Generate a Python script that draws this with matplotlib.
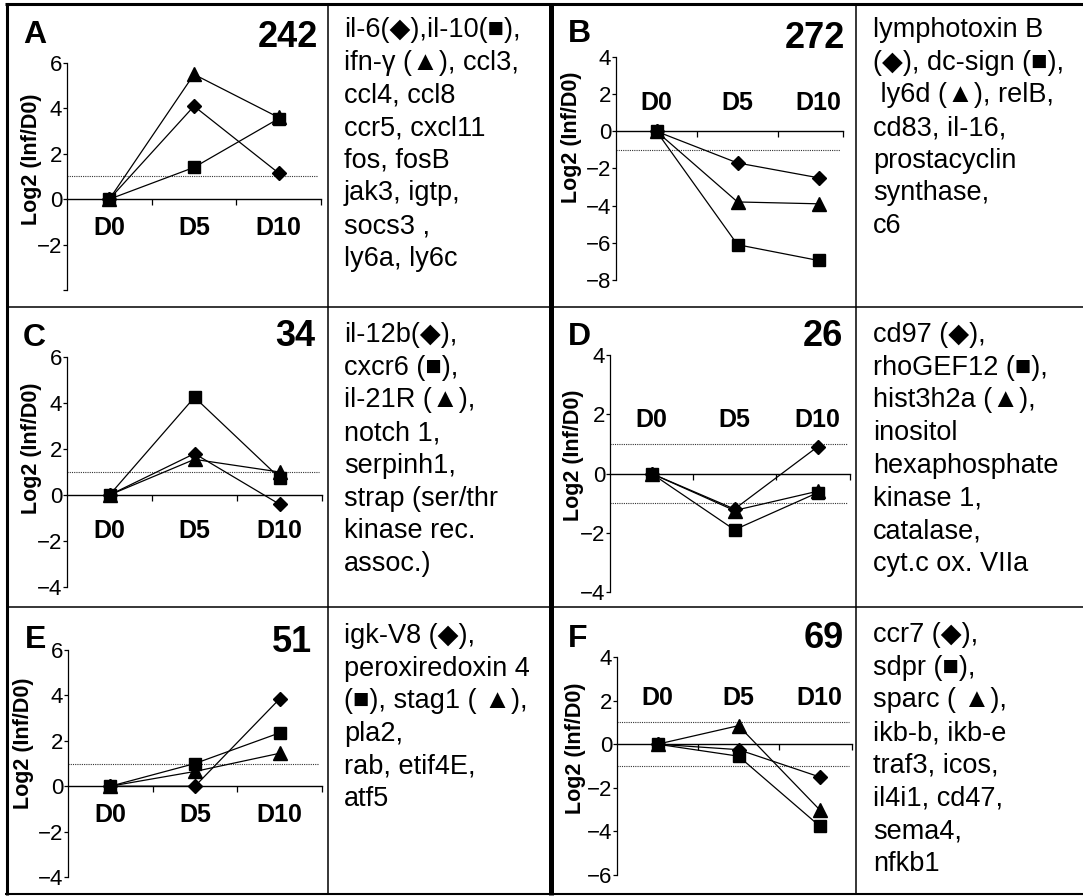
import matplotlib
matplotlib.use("Agg")
import matplotlib.pyplot as plt
from matplotlib.lines import Line2D

plt.rcParams['font.family'] = ['Liberation Sans', 'DejaVu Sans']

W, H = 1083, 896

days = ["D0", "D5", "D10"]

# log2(Inf/D0) per gene: diamond, square, triangle
a_diamond = [0, 4.1, 1.15]
a_square = [0, 1.4, 3.55]
a_triangle = [0, 5.5, 3.6]

b_diamond = [0, -1.7, -2.5]
b_square = [0, -6.1, -6.95]
b_triangle = [0, -3.8, -3.9]

c_diamond = [0, 1.8, -0.4]
c_square = [0, 4.25, 0.75]
c_triangle = [0, 1.55, 1.0]

d_diamond = [0, -1.2, 0.9]
d_square = [0, -1.9, -0.65]
d_triangle = [0, -1.25, -0.6]

e_diamond = [0, 0.0, 3.85]
e_square = [0, 1.0, 2.35]
e_triangle = [0, 0.65, 1.45]

f_diamond = [0, -0.25, -1.5]
f_square = [0, -0.55, -3.75]
f_triangle = [0, 0.85, -3.0]

counts = ["242", "272", "34", "26", "51", "69"]

genes_a = ["il-6(◆),il-10(■),", "ifn-γ (▲), ccl3,", "ccl4, ccl8", "ccr5, cxcl11",
           "fos, fosB", "jak3, igtp,", "socs3 ,", "ly6a, ly6c"]
genes_b = ["lymphotoxin B", "(◆), dc-sign (■),", " ly6d (▲), relB,", "cd83, il-16,",
           "prostacyclin", "synthase,", "c6"]
genes_c = ["il-12b(◆),", "cxcr6 (■),", "il-21R (▲),", "notch 1,", "serpinh1,",
           "strap (ser/thr", "kinase rec.", "assoc.)"]
genes_d = ["cd97 (◆),", "rhoGEF12 (■),", "hist3h2a (▲),", "inositol", "hexaphosphate",
           "kinase 1,", "catalase,", "cyt.c ox. VIIa"]
genes_e = ["igk-V8 (◆),", "peroxiredoxin 4", "(■), stag1 ( ▲),", "pla2,", "rab, etif4E,", "atf5"]
genes_f = ["ccr7 (◆),", "sdpr (■),", "sparc ( ▲),", "ikb-b, ikb-e", "traf3, icos,",
           "il4i1, cd47,", "sema4,", "nfkb1"]


def fx(x):
    return x / W


def fy(y):
    return 1 - y / H


fig = plt.figure(figsize=(W / 100, H / 100), dpi=100)


def hline(y, x0, x1, lw):
    fig.add_artist(Line2D([fx(x0), fx(x1)], [fy(y), fy(y)], color='black', lw=lw,
                          transform=fig.transFigure, solid_capstyle='butt'))


def vline(x, y0, y1, lw):
    fig.add_artist(Line2D([fx(x), fx(x)], [fy(y0), fy(y1)], color='black', lw=lw,
                          transform=fig.transFigure, solid_capstyle='butt'))


# table grid
hline(4, 5, W, 2.2)
hline(894, 5, W, 1.5)
hline(307, 7, W, 1.1)
hline(607, 7, W, 1.1)
vline(7, 3, 895, 2.2)
vline(328, 4, 894, 1.1)
vline(856, 4, 894, 1.1)
vline(550.5, 3, 895, 3.6)


def tick_text(v, hide):
    if v in hide:
        return ''
    return str(v).replace('-', '\u2212')


def panel(box, ylim, hide, series, order, xend, label_y, thresholds,
          letter, letter_pos, count, count_pos, ylab_pos, genes, genes_pos):
    x0, x1, ytop, ybot = box
    ax = fig.add_axes([fx(x0), fy(ybot), (x1 - x0) / W, (ybot - ytop) / H])
    ax.set_xlim(-0.5, 2.5)
    ax.set_ylim(*ylim)
    ax.patch.set_alpha(0)
    for s in ['top', 'right']:
        ax.spines[s].set_visible(False)
    ax.spines['left'].set_linewidth(0.9)
    ax.spines['bottom'].set_position(('data', 0))
    ax.spines['bottom'].set_bounds(-0.5, xend)
    ax.spines['bottom'].set_linewidth(1.0)
    ax.set_xticks([0.5, 1.5, xend])
    ax.tick_params(axis='x', direction='out', length=4, width=0.9, labelbottom=False)
    yticks = list(range(ylim[0], ylim[1] + 1, 2))
    ax.set_yticks(yticks)
    ax.set_yticklabels([tick_text(v, hide) for v in yticks], fontsize=16)
    ax.tick_params(axis='y', direction='out', length=3, width=0.9, pad=0.5)

    for t in thresholds:
        ax.plot([-0.5, xend - 0.03], [t, t], color='#333333', lw=0.8,
                linestyle=(0, (1, 1)), zorder=1)

    styles = {'diamond': ('D', 7.5), 'square': ('s', 8.5), 'triangle': ('^', 10.5)}
    xs = range(len(days))
    for name in order:
        m, ms = styles[name]
        ax.plot(xs, series[name], color='black', lw=0.9, marker=m, markersize=ms,
                markerfacecolor='black', markeredgecolor='black', zorder=3)

    for i, d in enumerate(days):
        ax.text(i, label_y, d, ha='center', va='center', fontsize=18,
                fontweight='bold')

    fig.text(fx(letter_pos[0]), fy(letter_pos[1]), letter, fontsize=23,
             fontweight='bold', ha='left', va='baseline')
    fig.text(fx(count_pos[0]), fy(count_pos[1]), count, fontsize=26,
             fontweight='bold', ha='right', va='baseline')
    fig.text(fx(ylab_pos[0]), fy(ylab_pos[1]), "Log2 (Inf/D0)", fontsize=15.5,
             fontweight='bold', rotation=90, ha='center', va='center')

    gx, gy = genes_pos
    for k, line in enumerate(genes):
        fig.text(fx(gx), fy(gy + k * 32.7), line, fontsize=19.5, ha='left',
                 va='baseline')
    return ax


std = ['diamond', 'square', 'triangle']

panel((67, 321, 63, 290), (-4, 6), [-4],
      {'diamond': a_diamond, 'square': a_square, 'triangle': a_triangle}, std,
      2.5, -1.25, [1], "A", (23, 43), counts[0], (318, 47), (32, 159),
      genes_a, (344, 37))

panel((616, 859, 57, 280), (-8, 4), [],
      {'diamond': b_diamond, 'square': b_square, 'triangle': b_triangle}, std,
      2.3, 1.5, [-1], "B", (568, 42), counts[1], (845, 48), (572, 137),
      genes_b, (873, 37))

panel((67, 322, 357, 587), (-4, 6), [],
      {'diamond': c_diamond, 'square': c_square, 'triangle': c_triangle}, std,
      2.5, -1.55, [1], "C", (23, 346), counts[2], (315, 346), (31, 448),
      genes_c, (344, 342))

panel((610, 859, 355, 592), (-4, 4), [],
      {'diamond': d_diamond, 'square': d_square, 'triangle': d_triangle}, std,
      2.39, 1.8, [1, -1], "D", (568, 345), counts[3], (843, 346), (573, 455),
      genes_d, (873, 342))

panel((68, 322, 650, 877), (-4, 6), [],
      {'diamond': e_diamond, 'square': e_square, 'triangle': e_triangle}, std,
      2.5, -1.28, [1], "E", (25, 648), counts[4], (312, 652), (23, 743),
      genes_e, (344, 643))

panel((617, 860, 657, 875), (-6, 4), [],
      {'diamond': f_diamond, 'square': f_square, 'triangle': f_triangle},
      ['diamond', 'triangle', 'square'],
      2.4, 2.1, [1, -1], "F", (568, 647), counts[5], (844, 648), (575, 748),
      genes_f, (873, 642))

fig.savefig("out.png", dpi=100)
